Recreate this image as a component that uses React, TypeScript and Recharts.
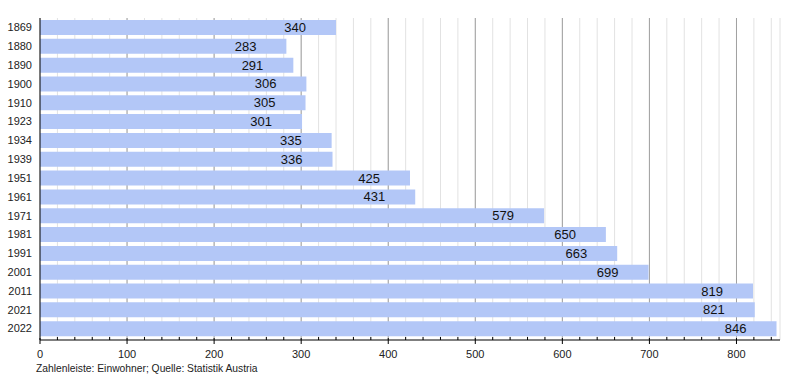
import { Bar, BarChart, CartesianGrid, LabelList, XAxis, YAxis } from "recharts";

const YEARS = ["1869", "1880", "1890", "1900", "1910", "1923", "1934", "1939", "1951", "1961", "1971", "1981", "1991", "2001", "2011", "2021", "2022"];
const RESIDENTS = [340, 283, 291, 306, 305, 301, 335, 336, 425, 431, 579, 650, 663, 699, 819, 821, 846];
const MINOR_TICKS = [0, 20, 40, 60, 80, 100, 120, 140, 160, 180, 200, 220, 240, 260, 280, 300, 320, 340, 360, 380, 400, 420, 440, 460, 480, 500, 520, 540, 560, 580, 600, 620, 640, 660, 680, 700, 720, 740, 760, 780, 800, 820, 840];
const MAJOR_TICKS = [100, 200, 300, 400, 500, 600, 700, 800];

const FONT = '"Liberation Sans", Arial, sans-serif';
const BAR_BLUE = "#b3c7f7";

const rows = YEARS.map((year, i) => ({ year, value: RESIDENTS[i] }));

function AxisTick(props: any) {
  const { x, y, payload } = props;
  const major = payload.value % 100 === 0;
  if (!major) {
    return <line x1={x} x2={x} y1={y - 3} y2={y} stroke="#000" strokeWidth={1} />;
  }
  return (
    <g>
      <line x1={x} x2={x} y1={y - 2} y2={y + 4} stroke="#000" strokeWidth={1} />
      <text x={x} y={y + 18} textAnchor="middle" fontSize={11} fill="#222" fontFamily={FONT}>
        {payload.value}
      </text>
    </g>
  );
}

function ValueLabel(props: any) {
  const { x, y, width, height, value } = props;
  return (
    <text
      x={x + width - 30}
      y={y + height / 2}
      textAnchor="end"
      dominantBaseline="central"
      fontSize={13}
      fill="#111"
      fontFamily={FONT}
    >
      {value}
    </text>
  );
}

export default function App() {
  return (
    <div style={{ position: "absolute", left: 0, top: 0, width: 800, height: 380, background: "#fff", fontFamily: FONT }}>
      <BarChart
        width={800}
        height={380}
        data={rows}
        layout="vertical"
        margin={{ top: 18, right: 20, bottom: 20, left: 5 }}
        barSize={15}
      >
        <CartesianGrid horizontal={false} stroke="#e2e2e2" />
        <CartesianGrid horizontal={false} verticalValues={MAJOR_TICKS} stroke="#a0a0a0" />
        <XAxis
          type="number"
          domain={[0, 850]}
          ticks={MINOR_TICKS}
          interval={0}
          tickSize={0}
          tickMargin={0}
          tickLine={false}
          height={20}
          axisLine={{ stroke: "#000" }}
          tick={<AxisTick />}
        />
        <YAxis
          type="category"
          dataKey="year"
          width={35}
          tickSize={0}
          tickMargin={8}
          tickLine={false}
          axisLine={{ stroke: "#000" }}
          padding={{ top: 0, bottom: 2 }}
          tick={{ fontSize: 11, fill: "#222", fontFamily: FONT }}
          interval={0}
        />
        <Bar dataKey="value" fill={BAR_BLUE} isAnimationActive={false}>
          <LabelList dataKey="value" content={<ValueLabel />} />
        </Bar>
      </BarChart>
      <div style={{ position: "absolute", left: 36, top: 363, fontSize: 10.3, color: "#222", lineHeight: "12px" }}>
        Zahlenleiste: Einwohner; Quelle: Statistik Austria
      </div>
    </div>
  );
}
